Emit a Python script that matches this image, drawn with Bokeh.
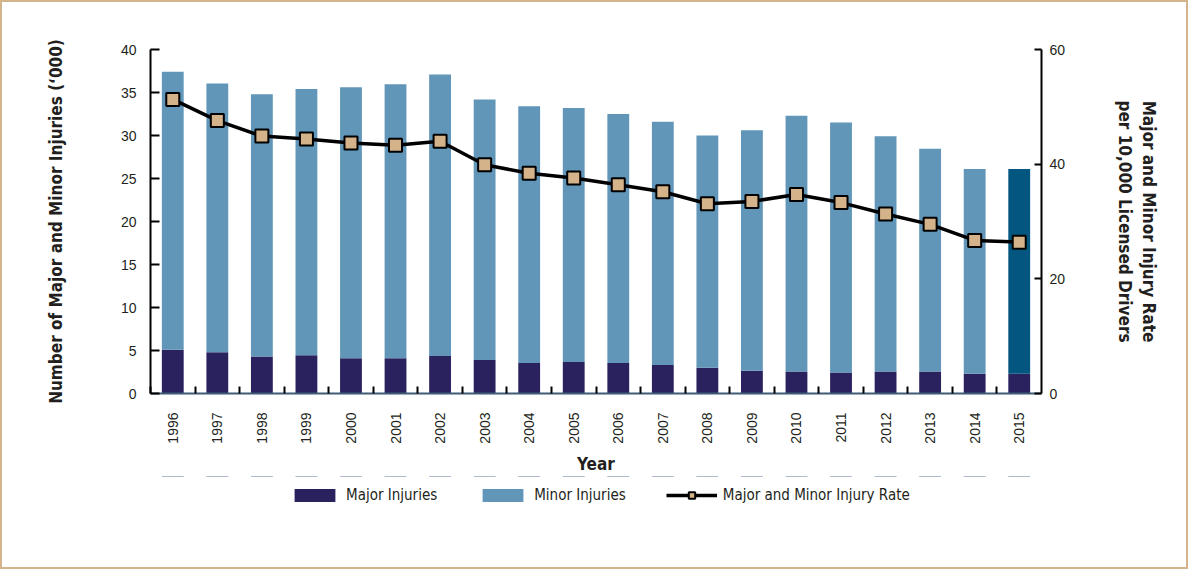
import math
from bokeh.plotting import figure
from bokeh.layouts import column
from bokeh.models import (ColumnDataSource, Range1d, LinearAxis, FixedTicker,
                          Legend, LegendItem)
from bokeh.embed import file_html
from bokeh.resources import INLINE

years = [1996, 1997, 1998, 1999, 2000, 2001, 2002, 2003, 2004, 2005,
         2006, 2007, 2008, 2009, 2010, 2011, 2012, 2013, 2014, 2015]
major = [5.1, 4.8, 4.3, 4.45, 4.1, 4.1, 4.35, 3.9, 3.55, 3.65,
         3.55, 3.3, 3.0, 2.65, 2.55, 2.45, 2.55, 2.55, 2.3, 2.3]
minor = [32.3, 31.25, 30.5, 30.95, 31.5, 31.85, 32.75, 30.3, 29.85, 29.55,
         28.95, 28.3, 27.0, 27.95, 29.75, 29.05, 27.35, 25.9, 23.8, 23.8]
rate = [51.3, 47.6, 44.9, 44.4, 43.7, 43.3, 44.0, 39.9, 38.4, 37.6,
        36.4, 35.2, 33.1, 33.5, 34.7, 33.3, 31.3, 29.5, 26.7, 26.4]
left_ticks = [0, 5, 10, 15, 20, 25, 30, 35, 40]
right_ticks = [0, 20, 40, 60]
legend_labels = ["Major Injuries", "Minor Injuries", "Major and Minor Injury Rate"]

MAJOR_C = "#29225f"
MINOR_C = "#6196b9"
HILITE_C = "#02567f"
MARK_C = "#d5b38a"
TEXT_C = "#231f20"
FONT = "Liberation Sans"
NARROW = "DejaVu Sans Condensed"

total = [a + b for a, b in zip(major, minor)]
src = ColumnDataSource(dict(
    year=years, major=major, total=total, rate=rate,
    minor_color=[HILITE_C if y == years[-1] else MINOR_C for y in years],
))

# ---------------- main chart ----------------
p = figure(width=1184, height=474, output_backend="svg", toolbar_location=None,
           x_range=Range1d(years[0] - 0.5, years[-1] + 0.5),
           y_range=Range1d(left_ticks[0], left_ticks[-1]),
           min_border_left=148, min_border_right=145,
           min_border_top=47, min_border_bottom=82,
           x_axis_location=None, y_axis_location=None)
p.extra_y_ranges = {"rate": Range1d(right_ticks[0], right_ticks[-1])}
p.outline_line_color = None
p.grid.visible = False
p.background_fill_color = "white"
p.border_fill_color = "white"

p.vbar(x="year", width=0.49, bottom=0, top="major", source=src,
       fill_color=MAJOR_C, line_color=None)
p.vbar(x="year", width=0.49, bottom="major", top="total", source=src,
       fill_color="minor_color", line_color=None)
p.line(x="year", y="rate", source=src, y_range_name="rate",
       line_color="black", line_width=3.5)
p.scatter(x="year", y="rate", source=src, y_range_name="rate",
          marker="square", size=13, fill_color=MARK_C,
          line_color="black", line_width=2)

# x axis
xa = LinearAxis(ticker=FixedTicker(ticks=years,
                                   minor_ticks=[y - 0.5 for y in years]))
xa.major_label_orientation = math.pi / 2
xa.major_tick_in = 0
xa.major_tick_out = 0
xa.minor_tick_in = 7
xa.minor_tick_out = 0
xa.minor_tick_line_color = "black"
xa.minor_tick_line_width = 2
xa.axis_line_color = "#3f5b76"
xa.axis_line_width = 2
xa.major_label_standoff = 19
xa.major_label_text_font = FONT
xa.major_label_text_font_size = "14px"
xa.major_label_text_color = TEXT_C
xa.axis_label = "Year"
xa.axis_label_standoff = 7
xa.axis_label_text_font = NARROW
xa.axis_label_text_font_style = "bold"
xa.axis_label_text_font_size = "17px"
xa.axis_label_text_color = TEXT_C
p.add_layout(xa, "below")

# left axis
ya = LinearAxis(ticker=FixedTicker(ticks=left_ticks, minor_ticks=[]))
ya.major_tick_in = 9
ya.major_tick_out = 0
ya.major_tick_line_width = 2
ya.major_tick_line_color = "black"
ya.axis_line_color = "black"
ya.axis_line_width = 2
ya.major_label_standoff = 14
ya.major_label_text_font = FONT
ya.major_label_text_font_size = "14px"
ya.major_label_text_color = TEXT_C
ya.axis_label = "Number of Major and Minor Injuries (\u2018000)"
ya.axis_label_standoff = 52
ya.axis_label_text_font = NARROW
ya.axis_label_text_font_style = "bold"
ya.axis_label_text_font_size = "17px"
ya.axis_label_text_color = TEXT_C
p.add_layout(ya, "left")

# right axis
ra = LinearAxis(y_range_name="rate",
                ticker=FixedTicker(ticks=right_ticks, minor_ticks=[]))
ra.major_tick_in = 7
ra.major_tick_out = 0
ra.major_tick_line_width = 2
ra.major_tick_line_color = "black"
ra.axis_line_color = "black"
ra.axis_line_width = 2
ra.major_label_standoff = 8
ra.major_label_text_font = FONT
ra.major_label_text_font_size = "14px"
ra.major_label_text_color = TEXT_C
ra.axis_label = "Major and Minor Injury Rate\nper 10,000 Licensed Drivers"
ra.axis_label_standoff = 47
ra.axis_label_text_font = NARROW
ra.axis_label_text_font_style = "bold"
ra.axis_label_text_font_size = "17px"
ra.axis_label_text_color = TEXT_C
p.add_layout(ra, "right")

# ---------------- legend strip ----------------
# same data; the strip's y range lies below every value, so these marks stay
# out of view and only supply the legend swatches
lp = figure(width=1184, height=91, output_backend="svg", toolbar_location=None,
            x_range=Range1d(years[0] - 0.5, years[-1] + 0.5),
            y_range=Range1d(-200, -100),
            min_border=0, x_axis_location=None, y_axis_location=None)
lp.outline_line_color = None
lp.grid.visible = False
lp.background_fill_color = "white"
lp.border_fill_color = "white"

g_major = lp.vbar(x="year", top="major", width=0.49, source=src,
                  fill_color=MAJOR_C, line_color=None)
g_minor = lp.vbar(x="year", bottom="major", top="total", width=0.49, source=src,
                  fill_color=MINOR_C, line_color=None)
g_line = lp.line(x="year", y="rate", source=src, line_color="black",
                 line_width=3.5)
g_mark = lp.scatter(x="year", y="rate", source=src, marker="square", size=12,
                    fill_color=MARK_C, line_color="black", line_width=2)

legend = Legend(items=[
    LegendItem(label=legend_labels[0], renderers=[g_major]),
    LegendItem(label=legend_labels[1], renderers=[g_minor]),
    LegendItem(label=legend_labels[2], renderers=[g_line, g_mark]),
], orientation="horizontal", location=(139, 63))
legend.glyph_width = 51
legend.glyph_height = 16
legend.label_standoff = 6
legend.spacing = 40
legend.padding = 0
legend.margin = 0
legend.border_line_color = None
legend.background_fill_alpha = 0
legend.label_text_font = NARROW
legend.label_text_font_size = "15px"
legend.label_text_color = TEXT_C
lp.add_layout(legend, "center")

layout = column(p, lp)
layout.styles = {"border": "2px solid #d4b58b"}

open("out.html", "w").write(file_html(layout, INLINE))
